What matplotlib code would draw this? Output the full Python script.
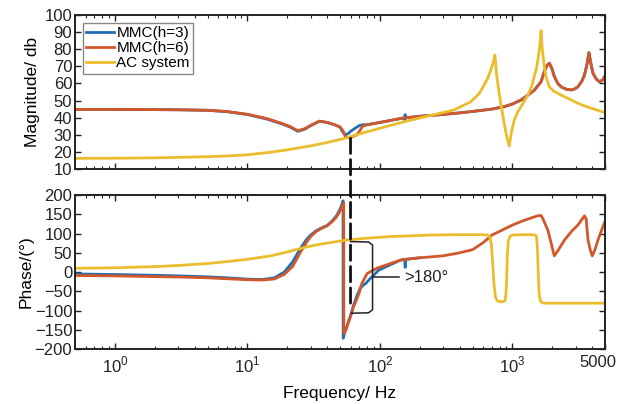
import matplotlib
matplotlib.use('Agg')
import matplotlib.pyplot as plt
from matplotlib.patches import ConnectionPatch
from matplotlib.transforms import ScaledTranslation

plt.rcParams['font.family'] = ['Liberation Sans', 'DejaVu Sans']
plt.rcParams['mathtext.fontset'] = 'custom'
plt.rcParams['mathtext.rm'] = 'Liberation Sans'

BLUE, ORANGE, YELLOW = '#1f6fb2', '#d2572a', '#ebbd2c'

# ---- magnitude (dB) ----
f_mmc_mag = [0.5, 1, 2, 3, 5, 7, 10, 14, 18, 21, 24, 27, 30, 35, 40, 45, 50, 53, 55, 58, 62, 67, 70, 74,
             80, 100, 150, 200, 271, 400, 485, 700, 867, 1000, 1160, 1300, 1460, 1645, 1740, 1820, 1900,
             1980, 2073, 2200, 2330, 2550, 2770, 2950, 3120, 3350, 3500, 3650, 3780, 3900, 4050, 4300, 4540, 4800, 5000]
mag_h6 = [44.8, 44.8, 44.7, 44.6, 44.3, 43.6, 42.0, 39.5, 36.8, 34.8, 32.4, 33.5, 35.5, 38.0, 37.2, 36.0, 34.6, 32.0, 28.5, 28.3, 28.8, 30.0, 32.0, 35.0,
          35.8, 37.2, 39.8, 40.8, 41.6, 42.8, 43.5, 45.0, 46.4, 48.0, 50.3, 53.0, 56.0, 61.0, 66.9, 70.5, 71.8,
          69.0, 64.0, 60.0, 58.0, 56.6, 56.2, 56.8, 58.0, 61.5, 65.0, 71.0, 78.0, 72.0, 66.0, 62.5, 61.0, 62.0, 64.5]

f_h3_mag = [0.5, 1, 2, 3, 5, 7, 10, 14, 18, 21, 24, 27, 30, 35, 40, 45, 50, 52.5, 55, 58, 60, 64, 67, 71, 74,
            80, 100, 150, 154.5, 155, 155.5, 200, 271, 400, 485, 700, 867, 1000, 1160, 1300, 1460, 1645, 1740, 1820, 1900,
            1980, 2073, 2200, 2330, 2550, 2770, 2950, 3120, 3350, 3500, 3650, 3780, 3900, 4050, 4300, 4540, 4800, 5000]
mag_h3 = [44.8, 44.8, 44.7, 44.6, 44.3, 43.5, 41.8, 39.2, 36.5, 34.5, 32.0, 33.2, 35.3, 37.9, 37.2, 36.0, 34.5, 31.5, 30.0, 30.8, 32.0, 33.5, 34.5, 35.6, 35.8,
          35.9, 37.2, 39.8, 38.6, 41.8, 39.9, 40.8, 41.6, 42.8, 43.5, 45.0, 46.4, 48.0, 50.3, 53.0, 56.0, 61.0, 66.9, 70.5, 71.8,
          69.0, 64.0, 60.0, 58.0, 56.6, 56.2, 56.8, 58.0, 61.5, 65.0, 71.0, 78.0, 72.0, 66.0, 62.5, 61.0, 62.0, 64.5]

f_ac_mag = [0.5, 1, 2, 3, 5, 7, 10, 15, 20, 30, 40, 55, 70, 100, 150, 200, 300, 362, 485, 560, 611, 650, 687, 715, 737,
            760, 795, 830, 867, 905, 946, 985, 1032, 1090, 1160, 1303, 1400, 1460, 1520, 1570, 1610, 1645,
            1680, 1740, 1800, 1900, 2050, 2330, 2700, 3120, 3600, 4170, 5000]
mag_ac = [16.2, 16.3, 16.5, 16.8, 17.2, 17.6, 18.3, 19.8, 21.2, 23.5, 25.5, 28.0, 30.5, 33.8, 37.5, 39.8, 43.0, 44.5, 49.3, 54.0, 59.0, 63.0, 67.9, 72.0, 76.6,
          65.0, 54.0, 45.0, 36.7, 29.0, 23.4, 32.0, 38.6, 43.0, 46.4, 53.0, 58.5, 64.0, 69.0, 75.6, 82.0, 90.8,
          80.0, 69.8, 63.5, 58.0, 55.5, 53.2, 50.8, 48.4, 46.5, 44.9, 42.9]

# ---- phase (deg) ----
f_mmc_ph = [0.5, 1, 2, 3, 5, 7, 10, 13, 16, 19, 22, 25, 28, 30, 33, 36, 40, 44, 47, 50, 52, 53.3, 53.4, 54, 56, 58, 60,
            63, 67, 70, 73, 80, 95, 143, 200, 300, 400, 500, 600, 700, 850, 1000, 1200, 1400, 1550, 1645, 1700, 1850,
            1960, 2070, 2200, 2470, 2800, 3120, 3350, 3500, 3600, 3720, 3850, 4000, 4200, 4420, 4700, 5000]
ph_h6 = [-9, -10, -12, -13, -15, -17.5, -20, -20.8, -18, -6, 15, 50, 78, 92, 105, 113, 120, 132, 143, 158, 171, 180, -160, -158, -145, -130, -116,
         -92, -70, -52, -30, -4, 10, 31, 37, 42, 50, 58, 76, 96, 110, 122, 133, 141, 146, 147, 138, 109,
         75, 42, 55, 83, 106, 122, 137, 146, 138, 83, 60, 42, 58, 83, 108, 132]

f_h3_ph = [0.5, 1, 2, 3, 5, 7, 10, 13, 16, 19, 22, 25, 28, 30, 33, 36, 40, 44, 47, 50, 52, 52.7, 52.8, 54, 56, 58, 60,
           63, 67, 71, 75, 78, 85, 90, 98, 143, 155, 155.1, 155.2, 200]
ph_h3 = [-5, -6.5, -8.5, -10, -12.5, -15, -18.5, -19.5, -15, 0, 27, 60, 85, 96, 107, 114, 121, 134, 146, 163, 178, 185, -172, -160, -144, -128, -113,
         -88, -62, -42, -34, -30, -16, -8, 5, 31, 33, 12, 33, 37]

f_ac_ph = [0.5, 1, 2, 3, 5, 7, 10, 15, 20, 27, 35, 45, 56, 80, 120, 240, 400, 600, 650, 675, 695, 710, 725, 745, 770,
           800, 850, 880, 895, 905, 915, 930, 960, 1000, 1200, 1400, 1490, 1520, 1545, 1565, 1590, 1620, 1680, 1800, 2500, 5000]
ph_ac = [9.6, 11, 14, 17, 22, 27, 33, 42, 52, 64, 72, 78, 83, 88, 92, 96, 97, 97, 96, 92, 70, 20, -30, -65, -75,
         -77, -77, -74, -55, -15, 40, 80, 93, 96, 97, 97, 96, 92, 60, 0, -55, -74, -80, -81, -81, -81]

xtick_pos = [1, 10, 100, 1000, 5000]
xtick_lbl = [r'$10^{0}$', r'$10^{1}$', r'$10^{2}$', r'$10^{3}$', '5000']

fig = plt.figure(figsize=(6.21, 4.04), dpi=100)
ax1 = fig.add_axes([0.1208, 0.5817, 0.8535, 0.3812])
ax2 = fig.add_axes([0.1208, 0.1361, 0.8535, 0.3812])

lw = 2.0
ax1.plot(f_h3_mag, mag_h3, color=BLUE, lw=lw, label='MMC(h=3)')
ax1.plot(f_mmc_mag, mag_h6, color=ORANGE, lw=lw, label='MMC(h=6)')
ax1.plot(f_ac_mag, mag_ac, color=YELLOW, lw=lw, label='AC system')

ax2.plot(f_h3_ph, ph_h3, color=BLUE, lw=lw)
ax2.plot(f_mmc_ph, ph_h6, color=ORANGE, lw=lw)
ax2.plot(f_ac_ph, ph_ac, color=YELLOW, lw=lw)

for ax in (ax1, ax2):
    ax.set_xscale('log')
    ax.set_xlim(0.5, 5000)
    ax.tick_params(which='both', direction='in', top=True, right=True, labelsize=12, colors='#222')
    ax.tick_params(which='major', length=4, width=1)
    ax.tick_params(which='minor', length=2.5, width=0.8)
    ax.tick_params(axis='y', pad=2)
    for s in ax.spines.values():
        s.set_linewidth(1.4)
        s.set_color('#222')

ax1.set_ylim(10, 100)
ax1.set_yticks(range(10, 101, 10))
ax1.set_xticks(xtick_pos)
ax1.set_xticklabels([])
ax1.set_ylabel('Magnitude/ db', fontsize=12.5, labelpad=3)

ax2.set_ylim(-200, 200)
ax2.set_yticks(range(-200, 201, 50))
ax2.set_xticks(xtick_pos)
ax2.set_xticklabels(xtick_lbl)
ax2.tick_params(axis='x', pad=4)
ax2.set_ylabel('Phase/(°)', fontsize=12.5, labelpad=1)
ax2.set_xlabel('Frequency/ Hz', fontsize=12.5, labelpad=8)

# pull the last label ("5000") a bit inside the figure
last = ax2.get_xticklabels()[-1]
last.set_transform(last.get_transform() + ScaledTranslation(-7 / 100, 0, fig.dpi_scale_trans))

ax1.legend(loc='upper left', fontsize=11, frameon=True, fancybox=False, edgecolor='#888',
           framealpha=1, handlelength=1.8, handletextpad=0.15, labelspacing=0.05,
           borderpad=0.25, borderaxespad=0.5)

# dashed marker at ~60 Hz spanning both panels
con = ConnectionPatch(xyA=(60, 28), coordsA=ax1.transData, xyB=(60, -86), coordsB=ax2.transData,
                      color='#111', lw=2.0, linestyle=(0, (5.5, 2.2)))
fig.add_artist(con)

# bracket ">180°"
bx = [60, 82, 88, 88, 82, 61]
by = [79, 78, 70, -98, -106, -107]
ax2.plot(bx, by, color='#222', lw=1.1)
ax2.plot([88, 140], [-14, -14], color='#222', lw=1.1)
ax2.text(152, -14, '>180°', fontsize=12, va='center', ha='left', color='#222')

fig.savefig('out.png', dpi=100)
